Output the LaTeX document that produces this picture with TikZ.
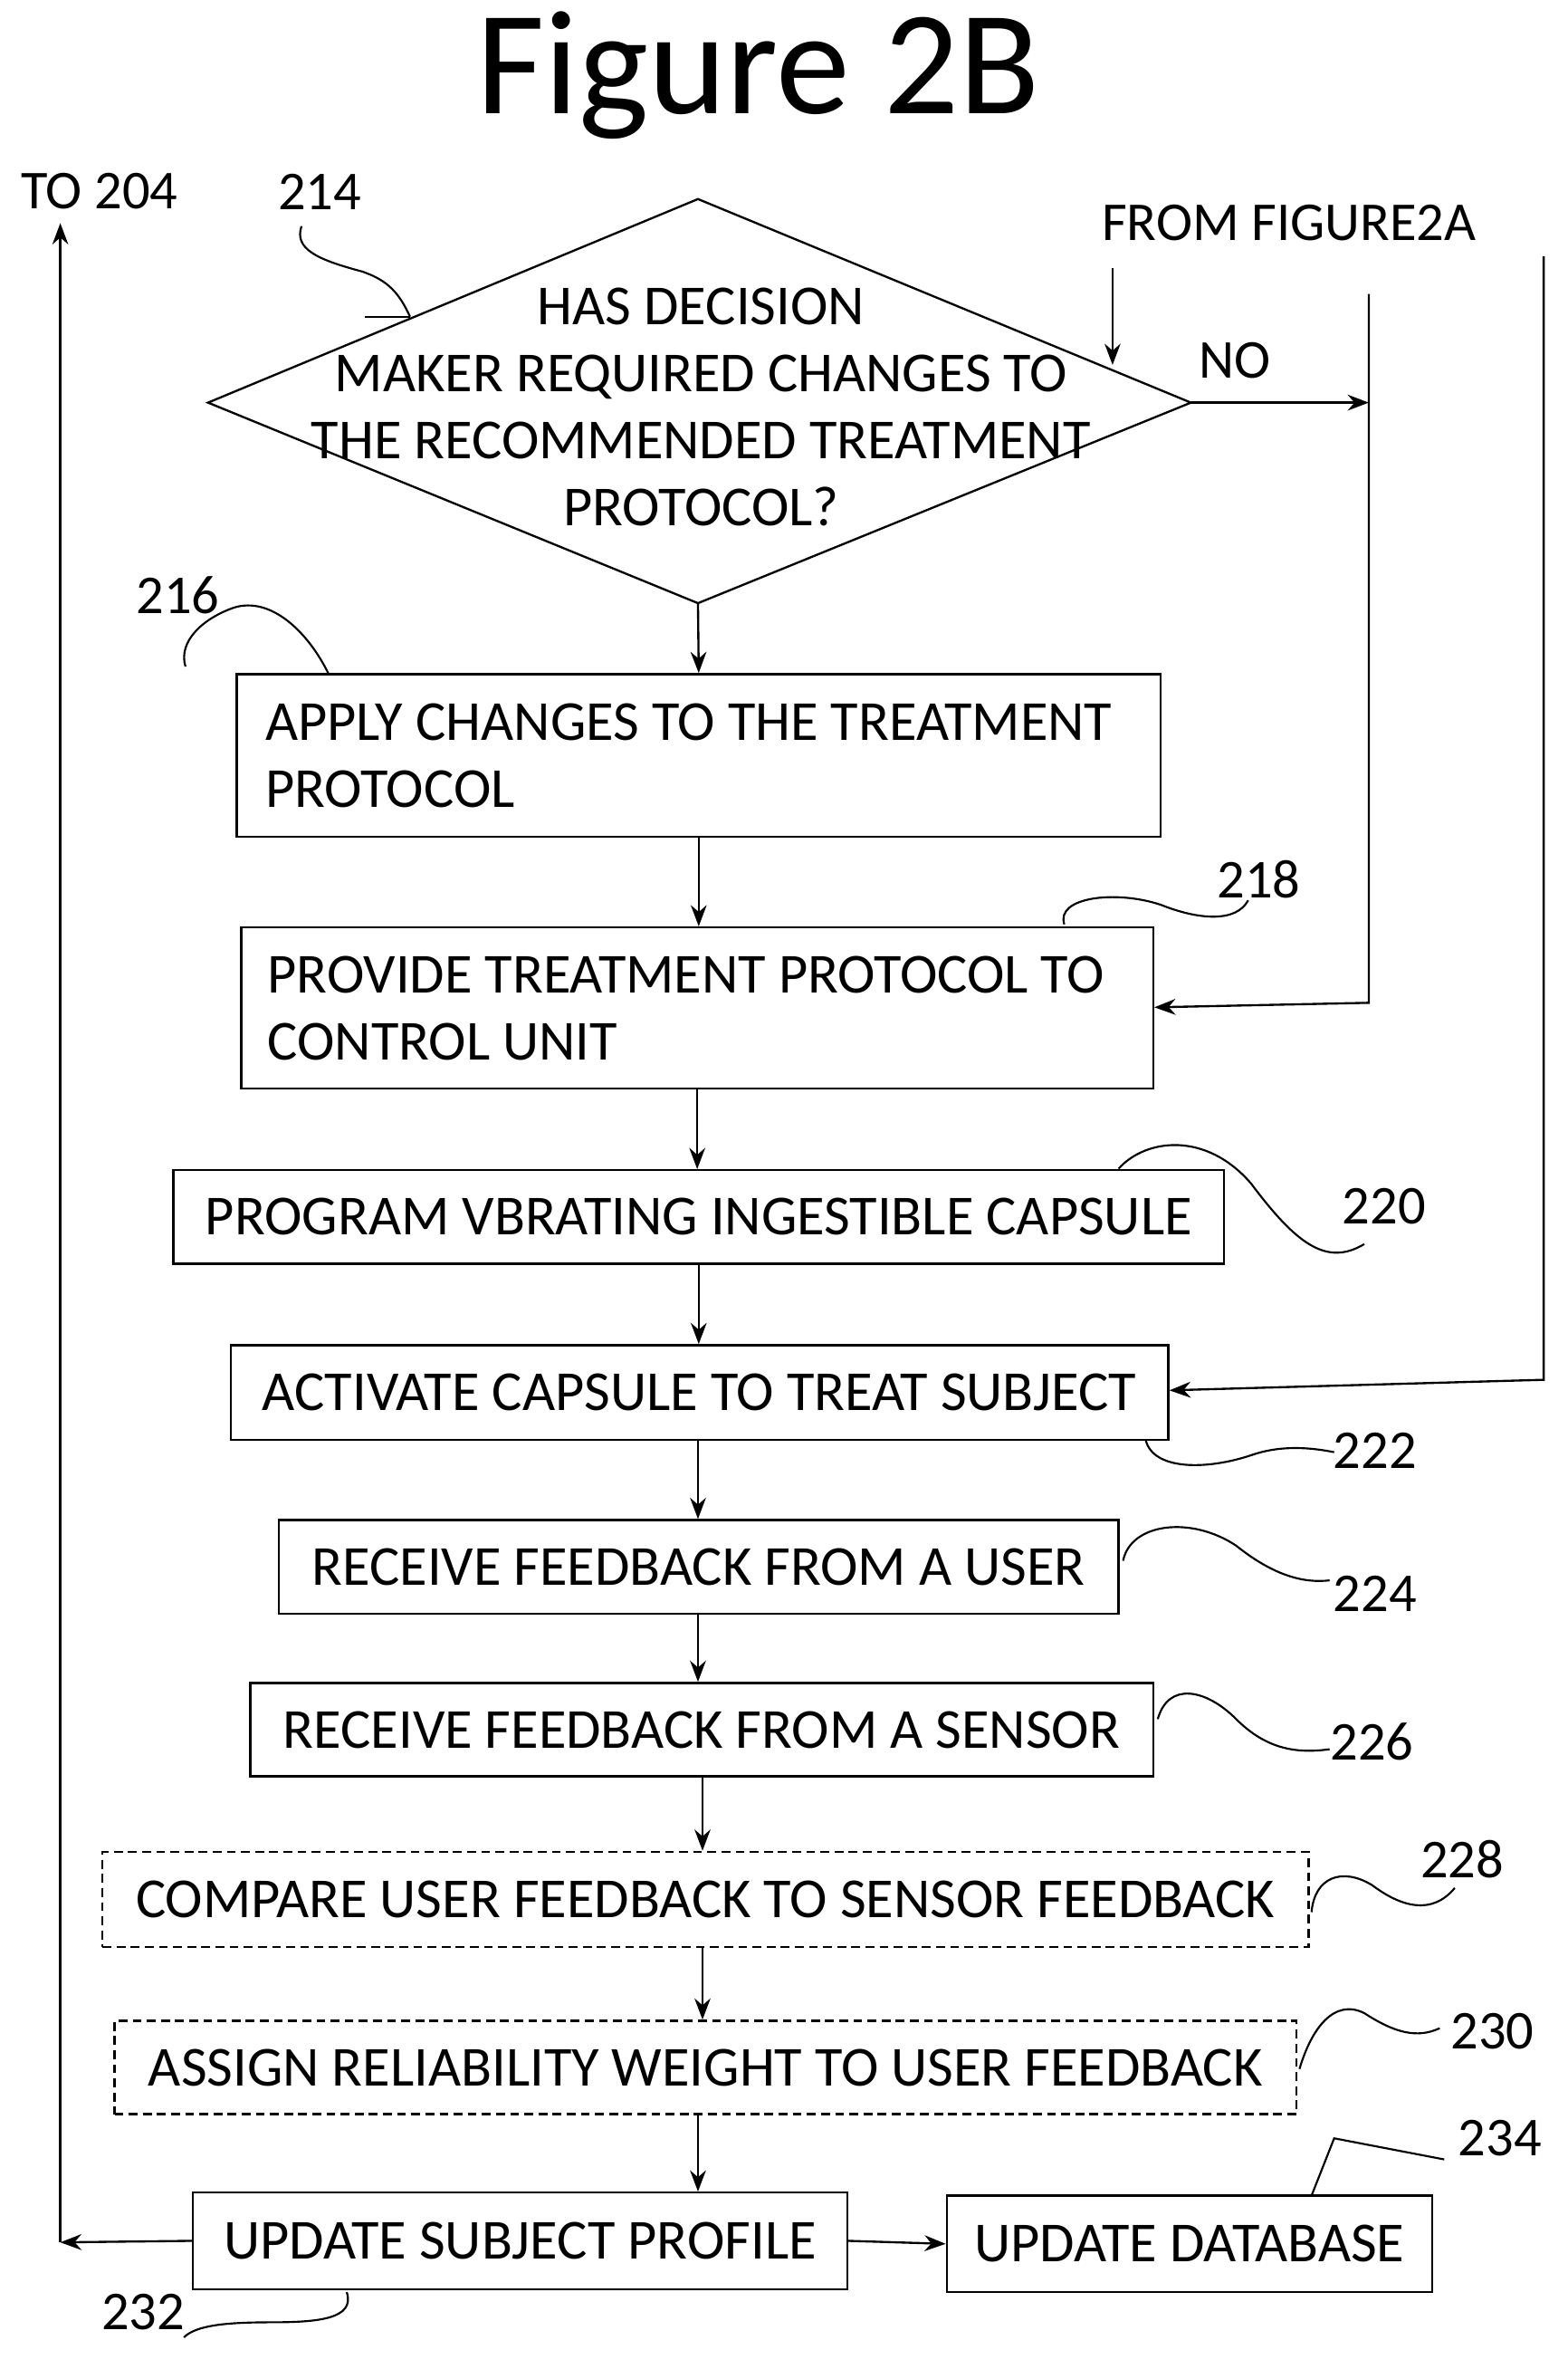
\documentclass[tikz,border=0pt]{standalone}
\usepackage{fontspec}
\setmainfont{Carlito}
\usetikzlibrary{arrows.meta}
\begin{document}
\begin{tikzpicture}[x=0.03cm,y=-0.03cm,
  every node/.style={font=\fontsize{32}{38}\selectfont, inner sep=0pt},
  box/.style={draw, line width=1.2pt},
  dbox/.style={draw, line width=1.2pt, dashed, dash pattern=on 5pt off 3pt},
  ar/.style={line width=1.2pt, -{Stealth[length=12pt,width=9pt]}},
  ln/.style={line width=1.2pt},
  sq/.style={line width=1.1pt},
  lbl/.style={font=\fontsize{31}{36}\selectfont}]
\useasboundingbox (0,0) rectangle (1040,1571);
\node[font=\fontsize{84}{92}\selectfont] (title) at (503,50) {Figure 2B};
\node[lbl] (to204) at (66,127) {TO 204};
\node[lbl] (l214) at (212,127) {214};
\node[lbl] (from) at (855,148) {FROM FIGURE2A};
\node[lbl] (no) at (819,239) {NO};
% diamond
\coordinate (dl) at (138,267); \coordinate (dr) at (790,267);
\coordinate (dt) at (463,132); \coordinate (db) at (463,400);
\draw[ln] (dl) -- (dt) -- (dr) -- (db) -- cycle;
\node[align=center] (d214) at (465,270) {HAS DECISION\\MAKER REQUIRED CHANGES TO\\THE RECOMMENDED TREATMENT\\PROTOCOL?};
% boxes
\node[box, minimum width=613*0.03cm, minimum height=108*0.03cm, align=flush left, text width=575*0.03cm] (b216) at (463.5,501) {APPLY CHANGES TO THE TREATMENT\\PROTOCOL};
\node[box, minimum width=605*0.03cm, minimum height=107*0.03cm, align=flush left, text width=570*0.03cm] (b218) at (462.5,668.5) {PROVIDE TREATMENT PROTOCOL TO\\CONTROL UNIT};
\node[box, minimum width=697*0.03cm, minimum height=62*0.03cm] (b220) at (463.5,807) {PROGRAM VBRATING INGESTIBLE CAPSULE};
\node[box, minimum width=622*0.03cm, minimum height=63*0.03cm] (b222) at (464,923.5) {ACTIVATE CAPSULE TO TREAT SUBJECT};
\node[box, minimum width=557*0.03cm, minimum height=62*0.03cm] (b224) at (463.5,1039) {RECEIVE FEEDBACK FROM A USER};
\node[box, minimum width=599*0.03cm, minimum height=62*0.03cm] (b226) at (465.5,1147) {RECEIVE FEEDBACK FROM A SENSOR};
\node[dbox, minimum width=800*0.03cm, minimum height=63*0.03cm] (b228) at (468,1259.5) {COMPARE USER FEEDBACK TO SENSOR FEEDBACK};
\node[dbox, minimum width=784*0.03cm, minimum height=62*0.03cm] (b230) at (468,1371) {ASSIGN RELIABILITY WEIGHT TO USER FEEDBACK};
\node[box, minimum width=434*0.03cm, minimum height=64*0.03cm] (b232) at (345,1486) {UPDATE SUBJECT PROFILE};
\node[box, minimum width=322*0.03cm, minimum height=64*0.03cm] (b234) at (789,1488) {UPDATE DATABASE};
% labels
\node[lbl] (l216) at (118,395) {216};
\node[lbl] (l218) at (835,583) {218};
\node[lbl] (l220) at (918,800) {220};
\node[lbl] (l222) at (912,962) {222};
\node[lbl] (l224) at (912,1057) {224};
\node[lbl] (l226) at (910,1155) {226};
\node[lbl] (l228) at (970,1233) {228};
\node[lbl] (l230) at (990,1347) {230};
\node[lbl] (l232) at (95,1533) {232};
\node[lbl] (l234) at (995,1418) {234};
% vertical arrows
\draw[ar] (db) -- (b216.north);
\draw[ar] (b216.south) -- (b218.north -| b216.south);
\draw[ar] (b218.south) -- (b220.north -| b218.south);
\draw[ar] (b220.south) -- (b222.north -| b220.south);
\draw[ar] (b222.south -| 463,0) -- (b224.north -| 463,0);
\draw[ar] (b224.south -| 463,0) -- (b226.north -| 463,0);
\draw[ar] (b226.south -| 466,0) -- (b228.north -| 466,0);
\draw[ar] (b228.south -| 466,0) -- (b230.north -| 466,0);
\draw[ar] (b230.south -| 463,0) -- (b232.north -| 463,0);
\draw[ar] (b232.east) -- (b234.west);
% left return
\coordinate (tl) at (40,148);
\coordinate (bl) at (40,1487);
\draw[ar] (b232.west) -- (bl);
\draw[ar] (bl) -- (tl);
% NO path
\coordinate (nx) at (908,195);
\draw[ar] (dr) -- (908,267);
\draw[ar] (nx) -- (908,665) -- (b218.east |- 0,668);
\coordinate (fp) at (738,178);
\draw[ar] (fp) -- (738,242);
% far right
\coordinate (fr) at (1024,170);
\draw[ar] (fr) -- (1024,915) -- (b222.east |- 0,922);
% squiggles
\draw[sq] (200,150) .. controls (195,165) and (210,172) .. (240,180) .. controls (258,186) and (265,195) .. (272,210);
\draw[sq] (242,210) -- (272,210);
\draw[sq] (123,442) .. controls (118,425) and (135,410) .. (155,403) .. controls (180,395) and (205,420) .. (218,447);
\draw[sq] (706,613) .. controls (700,595) and (740,590) .. (770,600) .. controls (795,610) and (820,612) .. (828,597);
\draw[sq] (742,775) .. controls (760,755) and (800,750) .. (830,785) .. controls (860,825) and (880,840) .. (905,825);
\draw[sq] (760,955) .. controls (765,975) and (800,975) .. (830,965) .. controls (850,958) and (870,960) .. (885,963);
\draw[sq] (745,1035) .. controls (750,1010) and (790,1005) .. (820,1025) .. controls (845,1045) and (865,1050) .. (882,1048);
\draw[sq] (768,1140) .. controls (775,1115) and (800,1120) .. (820,1140) .. controls (840,1160) and (860,1163) .. (882,1160);
\draw[sq] (870,1268) .. controls (872,1245) and (890,1238) .. (910,1250) .. controls (930,1265) and (950,1270) .. (965,1252);
\draw[sq] (862,1372) .. controls (870,1345) and (885,1325) .. (905,1335) .. controls (925,1348) and (940,1352) .. (955,1345);
\draw[sq] (230,1520) .. controls (236,1538) and (210,1540) .. (180,1540) .. controls (150,1540) and (130,1542) .. (122,1550);
\draw[sq] (870,1456) -- (885,1418) -- (958,1432);
\end{tikzpicture}
\end{document}
